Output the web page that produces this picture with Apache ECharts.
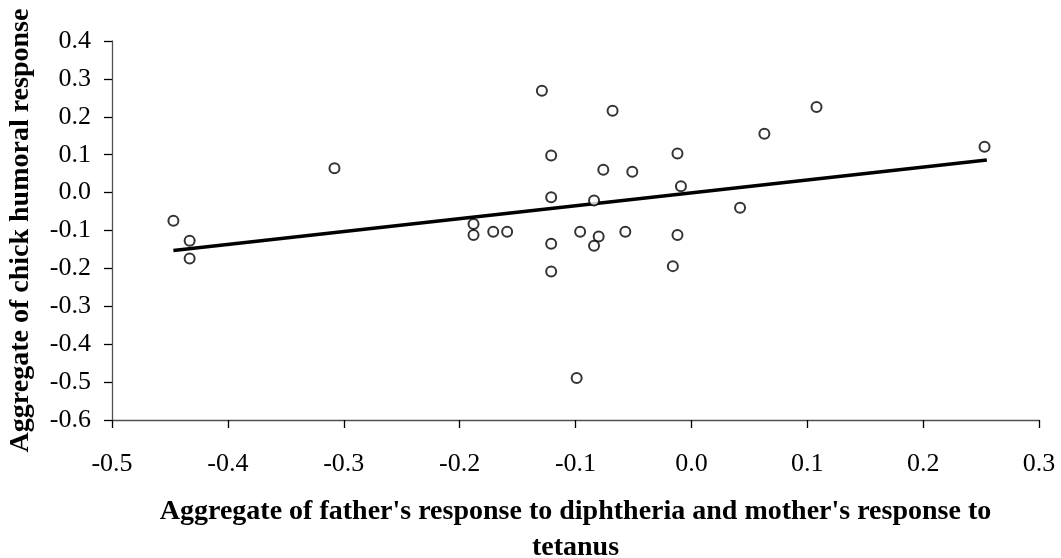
<!DOCTYPE html>
<html>
<head>
<meta charset="utf-8">
<script src="https://cdn.jsdelivr.net/npm/echarts@6/dist/echarts.min.js"></script>
<style>
  html, body { margin: 0; padding: 0; background: #fff; }
  #chart { width: 1061px; height: 558px; }
</style>
</head>
<body>
<div id="chart"></div>
<script>
// Paired aggregate responses (parents on x, chick on y)
const xValues = [-0.447, -0.433, -0.433, -0.308, -0.129, -0.068, -0.121, -0.012, -0.076, -0.051,
                 -0.009, -0.121, -0.084, 0.042, -0.188, -0.188, -0.171, -0.159, -0.121, -0.121,
                 -0.096, -0.080, -0.084, -0.057, -0.012, -0.016, -0.099, 0.063, 0.108, 0.253];
const yValues = [-0.074, -0.127, -0.174, 0.064, 0.269, 0.216, 0.098, 0.103, 0.060, 0.055,
                 0.017, -0.012, -0.021, -0.040, -0.083, -0.112, -0.103, -0.103, -0.135, -0.208,
                 -0.103, -0.116, -0.140, -0.103, -0.112, -0.194, -0.489, 0.155, 0.226, 0.121];

// Linear trend line end points
const trendX = [-0.447, 0.255];
const trendY = [-0.153, 0.086];

// Axis ranges and tick spacing
const xTicks = { min: -0.5, max: 0.3, step: 0.1 };
const yTicks = { min: -0.6, max: 0.4, step: 0.1 };

const xTitle = "Aggregate of father's response to diphtheria and mother's response to\ntetanus";
const yTitle = "Aggregate of chick humoral response";

const points = xValues.map((x, i) => [x, yValues[i]]);
const trend = trendX.map((x, i) => [x, trendY[i]]);

const serif = "'Liberation Serif', 'Times New Roman', serif";

const axisCommon = {
  type: 'value',
  splitLine: { show: false },
  axisLine: { show: true, onZero: false, lineStyle: { color: '#505050', width: 1.3 } },
  axisTick: { show: true, inside: false, length: 8, lineStyle: { color: '#000', width: 1.3 } },
  axisLabel: {
    color: '#000', fontFamily: serif, fontSize: 26,
    formatter: v => v.toFixed(1)
  },
  nameLocation: 'middle',
  nameTextStyle: { color: '#000', fontFamily: serif, fontWeight: 'bold', fontSize: 28 }
};

const chart = echarts.init(document.getElementById('chart'), null, { renderer: 'canvas' });
chart.setOption({
  animation: false,
  backgroundColor: '#fff',
  grid: { left: 112, right: 22, top: 41, bottom: 138, containLabel: false, outerBoundsMode: 'none' },
  xAxis: Object.assign({}, axisCommon, {
    min: xTicks.min, max: xTicks.max, interval: xTicks.step,
    name: xTitle, nameGap: 74,
    axisLabel: Object.assign({}, axisCommon.axisLabel, { margin: 31 }),
    nameTextStyle: Object.assign({}, axisCommon.nameTextStyle, { lineHeight: 36 })
  }),
  yAxis: Object.assign({}, axisCommon, {
    min: yTicks.min, max: yTicks.max, interval: yTicks.step,
    name: yTitle, nameGap: 77,
    axisLabel: Object.assign({}, axisCommon.axisLabel, { margin: 21 })
  }),
  series: [
    {
      type: 'line',
      data: trend,
      symbol: 'none',
      lineStyle: { color: '#000', width: 3.5 },
      z: 2
    },
    {
      type: 'scatter',
      data: points,
      symbol: 'circle',
      symbolSize: 10,
      itemStyle: { color: '#fff', borderColor: '#000', borderWidth: 2 },
      z: 3
    }
  ]
});
</script>
</body>
</html>
